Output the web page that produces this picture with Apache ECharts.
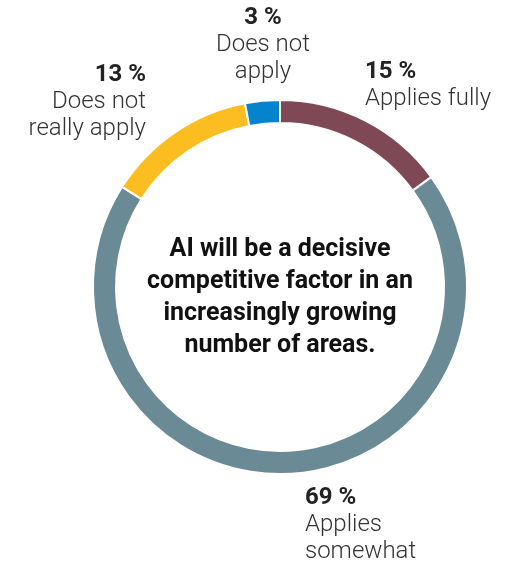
<!DOCTYPE html>
<html>
<head>
<meta charset="utf-8">
<script src="https://cdn.jsdelivr.net/npm/echarts@6/dist/echarts.min.js"></script>
<style>
  html, body { margin: 0; padding: 0; background: #fff; }
  #chart { width: 521px; height: 567px; }
</style>
</head>
<body>
<div id="chart"></div>
<script>
// Survey answers, clockwise from 12 o'clock
const answers = ['Applies fully', 'Applies somewhat', 'Does not really apply', 'Does not apply'];
const answerLines = ['Applies fully', 'Applies\nsomewhat', 'Does not\nreally apply', 'Does not\napply'];
const shares = [15, 69, 13, 3];
const sliceColors = ['#7e4955', '#6a8a96', '#fbbd20', '#0384cd'];
const statement = 'AI will be a decisive\ncompetitive factor in an\nincreasingly growing\nnumber of areas.';

// Where each label block sits (pixel anchor + alignment)
const labelSpots = [
  { x: 365, y: 59, align: 'left' },
  { x: 305, y: 485, align: 'left' },
  { x: 146, y: 62, align: 'right' },
  { x: 263, y: 5, align: 'center' }
];

const CX = 280, CY = 287;
const chart = echarts.init(document.getElementById('chart'), null, { renderer: 'canvas' });

chart.setOption({
  animation: false,
  series: [{
    type: 'pie',
    center: [CX, CY],
    radius: [164, 187],
    startAngle: 90,
    clockwise: true,
    silent: true,
    itemStyle: { borderColor: '#fff', borderWidth: 2 },
    label: {
      show: true,
      position: 'outside',
      alignTo: 'none',
      overflow: 'none',
      formatter: p => '{v|' + p.value + ' %}\n{t|' + answerLines[p.dataIndex] + '}',
      rich: {
        v: { fontFamily: 'Roboto', fontWeight: 'bold', fontSize: 24, color: '#222', lineHeight: 26 },
        t: { fontFamily: 'Roboto', fontWeight: 300, fontSize: 24, color: '#333', lineHeight: 27 }
      }
    },
    labelLine: { show: false },
    labelLayout: params => {
      const s = labelSpots[params.dataIndex];
      return { x: s.x, y: s.y, align: s.align, verticalAlign: 'top' };
    },
    data: answers.map((name, i) => ({
      name: name,
      value: shares[i],
      itemStyle: { color: sliceColors[i] },
      label: { align: labelSpots[i].align }
    }))
  }],
  graphic: [{
    type: 'text',
    x: CX,
    y: CY + 11,
    style: {
      text: statement,
      align: 'center',
      verticalAlign: 'middle',
      fontFamily: 'Roboto',
      fontWeight: 'bold',
      fontSize: 25,
      lineHeight: 32,
      fill: '#111'
    }
  }]
});
</script>
</body>
</html>
